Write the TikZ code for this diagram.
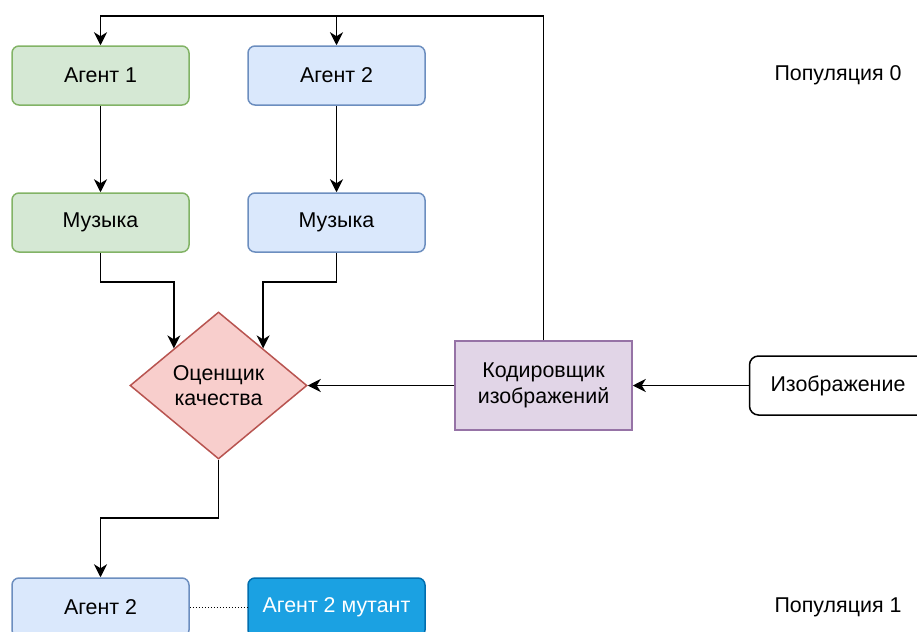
\documentclass[tikz,border=0pt]{standalone}
\usepackage{fontspec}
\setmainfont{Liberation Sans}
\usepackage{tikz}
\usetikzlibrary{shapes.geometric,arrows.meta,calc}
\definecolor{agentgreen}{RGB}{213,232,212}
\definecolor{agentgreenline}{RGB}{130,179,102}
\definecolor{agentblue}{RGB}{218,232,252}
\definecolor{agentblueline}{RGB}{108,142,191}
\definecolor{raterred}{RGB}{248,206,204}
\definecolor{raterredline}{RGB}{184,84,80}
\definecolor{coderviolet}{RGB}{225,213,231}
\definecolor{codervioletline}{RGB}{150,115,166}
\definecolor{mutantblue}{RGB}{27,161,226}
\definecolor{mutantblueline}{RGB}{0,110,175}

\tikzset{
  box/.style={draw, line width=0.75pt, rounded corners=3.5pt,
    minimum width=88.5pt, minimum height=29.5pt, inner sep=2pt,
    font=\fontsize{10.7}{12.8}\selectfont},
  greenbox/.style={box, fill=agentgreen, draw=agentgreenline},
  bluebox/.style={box, fill=agentblue, draw=agentblueline},
  arr/.style={draw, line width=0.9pt,
    -{Stealth[length=6.5pt,width=6.5pt,inset=2pt]}}
}

\begin{document}
\begin{tikzpicture}[x=0.5pt, y=-0.5pt]
  \useasboundingbox (0,0) rectangle (917,632);

  % population 0
  \node[greenbox] (a1) at (100.5,75.5) {Агент 1};
  \node[bluebox]  (a2) at (336.5,75.5) {Агент 2};
  \node[greenbox] (m1) at (100.5,222.5) {Музыка};
  \node[bluebox]  (m2) at (336.5,222.5) {Музыка};
  \node[font=\fontsize{10.7}{12.8}\selectfont] (p0) at (838,75.5) {Популяция 0};

  \node[diamond, draw=raterredline, fill=raterred, line width=0.75pt,
        minimum width=88.5pt, minimum height=73.5pt, inner sep=0pt,
        align=center, font=\fontsize{10.7}{12.8}\selectfont]
        (oc) at (218.5,385.5) {Оценщик\\качества};

  \node[box, rounded corners=0pt, fill=coderviolet, draw=codervioletline,
        minimum height=44.5pt, align=center]
        (kod) at (543.5,385.5) {Кодировщик\\изображений};
  \node[box, rounded corners=4.5pt, fill=white, draw=black]
        (img) at (838,385.5) {Изображение};

  % population 1
  \node[bluebox] (b2) at (100.5,607.5) {Агент 2};
  \node[box, fill=mutantblue, draw=mutantblueline, text=white]
        (mut) at (336.5,607.5) {Агент 2 мутант};
  \node[font=\fontsize{10.7}{12.8}\selectfont] (p1) at (838,607.5) {Популяция 1};

  \coordinate (q1) at ($(oc.north)!0.5!(oc.west)$);
  \coordinate (q2) at ($(oc.north)!0.5!(oc.east)$);

  % connectors
  \draw[arr] (kod.north) |- (a1.north |- 0,16) -- (a1.north);
  \draw[arr] (a2.north |- 0,16) -- (a2.north);
  \draw[arr] (a1) -- (m1);
  \draw[arr] (a2) -- (m2);
  \draw[arr] (m1.south) |- (q1 |- 0,282) -- (q1);
  \draw[arr] (m2.south) |- (q2 |- 0,282) -- (q2);
  \draw[arr] (img) -- (kod);
  \draw[arr] (kod) -- (oc);
  \draw[arr] (oc.south) |- (b2.north |- 0,518) -- (b2.north);
  \draw[line width=0.75pt, dash pattern=on 0.6pt off 0.9pt] (b2) -- (mut);
\end{tikzpicture}
\end{document}
